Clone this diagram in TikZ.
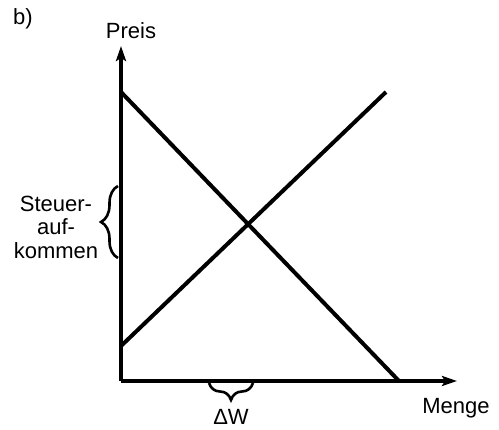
\documentclass[tikz,border=0pt]{standalone}
\usepackage{fontspec}
\setmainfont{Liberation Sans}
\usetikzlibrary{arrows.meta, decorations.pathreplacing, positioning}
\tikzset{
  % Achsen und Kurven
  axis/.style={line width=4pt, -{Stealth[length=15pt, width=10pt, inset=3pt]}},
  curve/.style={line width=4pt},
  % geschweifte Klammer
  klammer/.style={decorate, decoration={brace, amplitude=17pt}, line width=2.6pt},
  % Beschriftungen
  lbl/.style={font=\fontsize{22}{23.5}\selectfont, align=center, inner sep=0pt},
}

\begin{document}
\begin{tikzpicture}[x=1pt, y=-1pt]
  \useasboundingbox (0,0) rectangle (499,430);
  \coordinate (O) at (121,381);
  \coordinate (ytop) at (121,46);
  \coordinate (xend) at (457,381);
  \coordinate (dtop) at (121,92);
  \coordinate (dbot) at (399,381);
  \coordinate (sbot) at (121,346);
  \coordinate (stop) at (386,92);
  \draw[axis] (O) -- (ytop);
  \draw[axis] (O) -- (xend);
  \draw[curve] (dtop) -- (dbot);
  \draw[curve] (sbot) -- (stop);
  \node[lbl] (teil) at (23,19) {b)};
  \node[lbl] (preis) at (131,31) {Preis};
  \node[lbl] (menge) at (456,408) {Menge};
  % Klammern
  \coordinate (k1a) at (118,258);
  \coordinate (k1b) at (118,186);
  \draw[klammer] (k1a) -- (k1b);
  \node[lbl] (steuer) at (56,227) {Steuer-\\auf-\\kommen};
  \coordinate (k2a) at (253,383);
  \coordinate (k2b) at (209,383);
  \draw[klammer] (k2a) -- (k2b);
  \node[lbl] (dw) at (231,417) {ΔW};
\end{tikzpicture}
\end{document}
